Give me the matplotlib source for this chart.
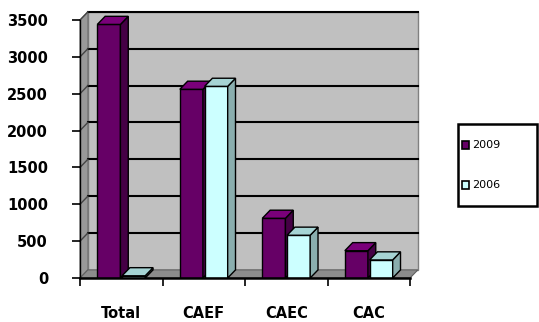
import matplotlib
matplotlib.use('Agg')
import matplotlib.pyplot as plt
from matplotlib.patches import Rectangle, Polygon

categories = ['Total', 'CAEF', 'CAEC', 'CAC']
series_2009 = [3440, 2560, 810, 370]
series_2006 = [30, 2600, 580, 245]
yticks = [0, 500, 1000, 1500, 2000, 2500, 3000, 3500]

# colours: front, side, top
purple = ('#660066', '#450045', '#7a007a')
cyan = ('#ccffff', '#8aaeae', '#a6d4d4')

YMAX = 3500
XMIN, XMAX = -0.5, len(categories) - 0.5
DX, DY = 0.095, 110  # fake depth, data units


def bar3d(ax, x, w, h, cols):
    front, side, top = cols
    ax.add_patch(Rectangle((x, 0), w, h, facecolor=front, edgecolor='black', lw=1, zorder=3))
    ax.add_patch(Polygon([(x + w, 0), (x + w + DX, DY), (x + w + DX, h + DY), (x + w, h)],
                         facecolor=side, edgecolor='black', lw=1, zorder=3, clip_on=False))
    ax.add_patch(Polygon([(x, h), (x + DX, h + DY), (x + w + DX, h + DY), (x + w, h)],
                         facecolor=top, edgecolor='black', lw=1, zorder=3, clip_on=False))


def walls(ax):
    ax.add_patch(Rectangle((XMIN + DX, DY), XMAX - XMIN, YMAX, facecolor='#c0c0c0',
                           edgecolor='#808080', lw=1, zorder=0, clip_on=False))
    ax.add_patch(Polygon([(XMIN, 0), (XMIN + DX, DY), (XMIN + DX, YMAX + DY), (XMIN, YMAX)],
                         facecolor='#999999', edgecolor='#707070', lw=0.8, zorder=0.5, clip_on=False))
    ax.add_patch(Polygon([(XMIN, 0), (XMAX, 0), (XMAX + DX, DY), (XMIN + DX, DY)],
                         facecolor='#8c8c8c', edgecolor='#606060', lw=0.8, zorder=0.5, clip_on=False))
    for y in yticks[1:]:
        ax.plot([XMIN + DX, XMAX + DX], [y + DY, y + DY], color='black', lw=1.5, zorder=1,
                clip_on=False)
        ax.plot([XMIN, XMIN + DX], [y, y + DY], color='#444444', lw=1, zorder=1, clip_on=False)


fig = plt.figure(figsize=(5.39, 3.22), dpi=100)
ax = fig.add_axes([80 / 539, 44 / 322, 330 / 539, 258 / 322])
ax.set_xlim(XMIN, XMAX)
ax.set_ylim(0, YMAX)

walls(ax)
w = 0.28
for i in range(len(categories)):
    bar3d(ax, i - 0.29, w, series_2009[i], purple)
    bar3d(ax, i + 0.01, w, series_2006[i], cyan)

for s in ['top', 'right']:
    ax.spines[s].set_visible(False)
ax.spines['left'].set_linewidth(1)
ax.spines['bottom'].set_linewidth(1.8)
ax.spines['left'].set_zorder(4)
ax.spines['bottom'].set_zorder(4)

ax.set_yticks(yticks)
ax.set_yticklabels([str(v) for v in yticks], fontsize=10.5, fontweight='bold')
ax.tick_params(axis='y', direction='out', length=6, width=1.2, pad=17)

ax.set_xticks([i - 0.5 for i in range(len(categories) + 1)])
ax.set_xticklabels([])
ax.set_xticks(range(len(categories)), minor=True)
ax.set_xticklabels(categories, minor=True, fontsize=10.5, fontweight='bold')
ax.tick_params(axis='x', which='major', direction='out', length=6, width=1.2)
ax.tick_params(axis='x', which='minor', length=0, pad=20)

# legend drawn by hand in figure pixels
H = 322
fig.patches.append(Rectangle((458 / 539, (H - 206) / H), 79 / 539, 82 / H, transform=fig.transFigure,
                             facecolor='white', edgecolor='black', lw=1.8))
for yy, lab, cols in [(145, '2009', purple), (185, '2006', cyan)]:
    fig.patches.append(Rectangle((462 / 539, (H - yy - 4) / H), 7 / 539, 8 / H,
                                 transform=fig.transFigure, facecolor=cols[0],
                                 edgecolor='black', lw=1.2))
    fig.text(472 / 539, (H - yy) / H, lab, fontsize=8, va='center', ha='left')

fig.savefig('out.png', dpi=100)
